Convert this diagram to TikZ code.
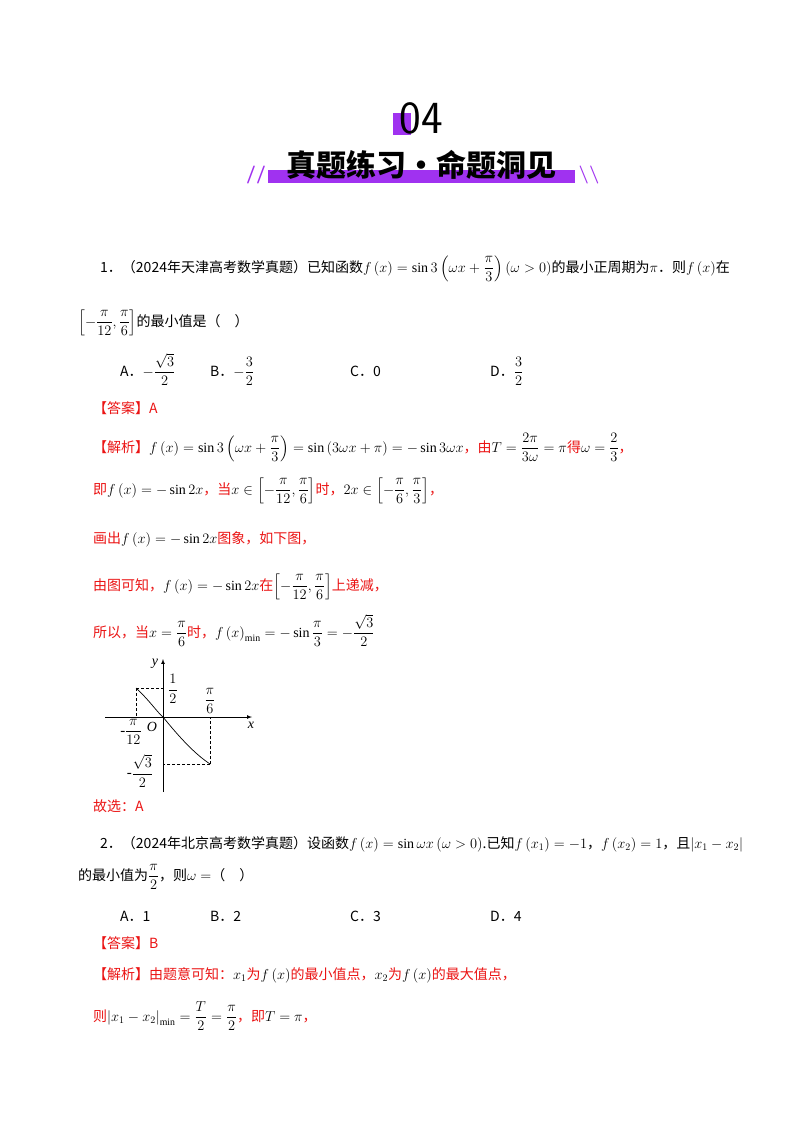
\documentclass[tikz,border=0pt]{standalone}
\usepackage{amsmath}
\usepackage{fontspec}
\setmainfont{Liberation Serif}
\newfontfamily\cjk{Noto Sans CJK SC}
\definecolor{rd}{RGB}{235,20,20}
\definecolor{pp}{RGB}{160,50,240}
\begin{document}
\begin{tikzpicture}[x=1pt,y=-1pt,
  ln/.style={anchor=base west,inner sep=0pt,font=\fontsize{14}{16}\selectfont\cjk},
  rt/.style={ln,text=rd},
  gl/.style={font=\fontsize{15}{15}\selectfont,inner sep=1pt},
  dsh/.style={densely dashed,line width=0.6pt}]
\useasboundingbox[fill=white] (0,0) rectangle (800,1132);
% header
\fill[pp] (393,113) rectangle (411,135);
\node[anchor=base,font=\fontsize{46}{46}\selectfont\sffamily] (num) at (421,133) {04};
\fill[pp] (268,170) rectangle (575,183);
\node[anchor=base,font=\fontsize{30}{30}\selectfont\cjk\bfseries] (ttl) at (421,176) {真题练习·命题洞见};
\node[text=pp,font=\fontsize{18}{18}\selectfont\sffamily\bfseries] (sl1) at (256,175) {//};
\node[text=pp,font=\fontsize{18}{18}\selectfont\sffamily\bfseries] (sl2) at (589,175) {\textbackslash\textbackslash};
% problem 1
\node[ln] (l1) at (100,272) {1．（2024年天津高考数学真题）已知函数$f\left(x\right)=\sin3\left(\omega x+\dfrac{\pi}{3}\right)\left(\omega>0\right)$的最小正周期为$\pi$．则$f\left(x\right)$在};
\node[ln] (l2) at (78,326) {$\left[-\dfrac{\pi}{12},\dfrac{\pi}{6}\right]$的最小值是（\quad）};
\node[ln] (o1) at (120,376) {A．$-\dfrac{\sqrt3}{2}$};
\node[ln] (o2) at (210,376) {B．$-\dfrac{3}{2}$};
\node[ln] (o3) at (350,376) {C．0};
\node[ln] (o4) at (490,376) {D．$\dfrac{3}{2}$};
\node[rt] (ans1) at (93,413) {【答案】A};
\node[rt] (a1) at (93,452) {【解析】\textcolor{black}{$f\left(x\right)=\sin3\left(\omega x+\dfrac{\pi}{3}\right)=\sin\left(3\omega x+\pi\right)=-\sin3\omega x$}，由\textcolor{black}{$T=\dfrac{2\pi}{3\omega}=\pi$}得\textcolor{black}{$\omega=\dfrac{2}{3}$}，};
\node[rt] (a2) at (93,494) {即\textcolor{black}{$f\left(x\right)=-\sin2x$}，当\textcolor{black}{$x\in\left[-\dfrac{\pi}{12},\dfrac{\pi}{6}\right]$}时，\textcolor{black}{$2x\in\left[-\dfrac{\pi}{6},\dfrac{\pi}{3}\right]$}，};
\node[rt] (a3) at (93,543) {画出\textcolor{black}{$f\left(x\right)=-\sin2x$}图象，如下图，};
\node[rt] (a4) at (93,590) {由图可知，\textcolor{black}{$f\left(x\right)=-\sin2x$}在\textcolor{black}{$\left[-\dfrac{\pi}{12},\dfrac{\pi}{6}\right]$}上递减，};
\node[rt] (a5) at (93,637) {所以，当\textcolor{black}{$x=\dfrac{\pi}{6}$}时，\textcolor{black}{$f\left(x\right)_{\min}=-\sin\dfrac{\pi}{3}=-\dfrac{\sqrt3}{2}$}};
% graph
\coordinate (O) at (163,717);
\coordinate (xs) at (105,717); \coordinate (xe) at (252,717);
\coordinate (ys) at (163,792); \coordinate (ye) at (163,659);
\coordinate (P) at (136,688); \coordinate (Q) at (210,764);
\draw[-latex,line width=0.7pt] (xs) -- (xe);
\draw[-latex,line width=0.7pt] (ys) -- (ye);
\draw[dsh] (P) -- (163,688); \draw[dsh] (P) -- (136,717);
\draw[dsh] (Q) -- (163,764); \draw[dsh] (Q) -- (210,717);
\draw[line width=0.7pt] (P) .. controls (150,701) and (157,712) .. (O) .. controls (180,738) and (195,754) .. (Q);
\node[gl,font=\fontsize{14}{14}\selectfont\itshape] (yl) at (155,664) {y};
\node[gl,font=\fontsize{14}{14}\selectfont\itshape] (xl) at (251,725) {x};
\node[gl,font=\fontsize{14}{14}\selectfont\itshape] (ol) at (152,727) {O};
\node[gl] (h) at (173,689) {$\dfrac{1}{2}$};
\node[gl] (p6) at (210,701) {$\dfrac{\pi}{6}$};
\node[gl] (p12) at (131,732) {-$\dfrac{\pi}{12}$};
\node[gl] (s3) at (140,771) {-$\dfrac{\sqrt3}{2}$};
\node[rt] (sel1) at (93,811) {故选：A};
% problem 2
\node[ln] (m1) at (100,848) {2．（2024年北京高考数学真题）设函数$f\left(x\right)=\sin\omega x\left(\omega>0\right)$.已知$f\left(x_1\right)=-1$，$f\left(x_2\right)=1$，且$\left|x_1-x_2\right|$};
\node[ln] (m2) at (78,880) {的最小值为$\dfrac{\pi}{2}$，则$\omega=$（\quad）};
\node[ln] (p1) at (120,921) {A．1};
\node[ln] (p2) at (210,921) {B．2};
\node[ln] (p3) at (350,921) {C．3};
\node[ln] (p4) at (490,921) {D．4};
\node[rt] (ans2) at (93,948) {【答案】B};
\node[rt] (b1) at (93,979) {【解析】由题意可知：\textcolor{black}{$x_1$}为\textcolor{black}{$f\left(x\right)$}的最小值点，\textcolor{black}{$x_2$}为\textcolor{black}{$f\left(x\right)$}的最大值点，};
\node[rt] (b2) at (93,1021) {则\textcolor{black}{$\left|x_1-x_2\right|_{\min}=\dfrac{T}{2}=\dfrac{\pi}{2}$}，即\textcolor{black}{$T=\pi$}，};
\end{tikzpicture}
\end{document}
